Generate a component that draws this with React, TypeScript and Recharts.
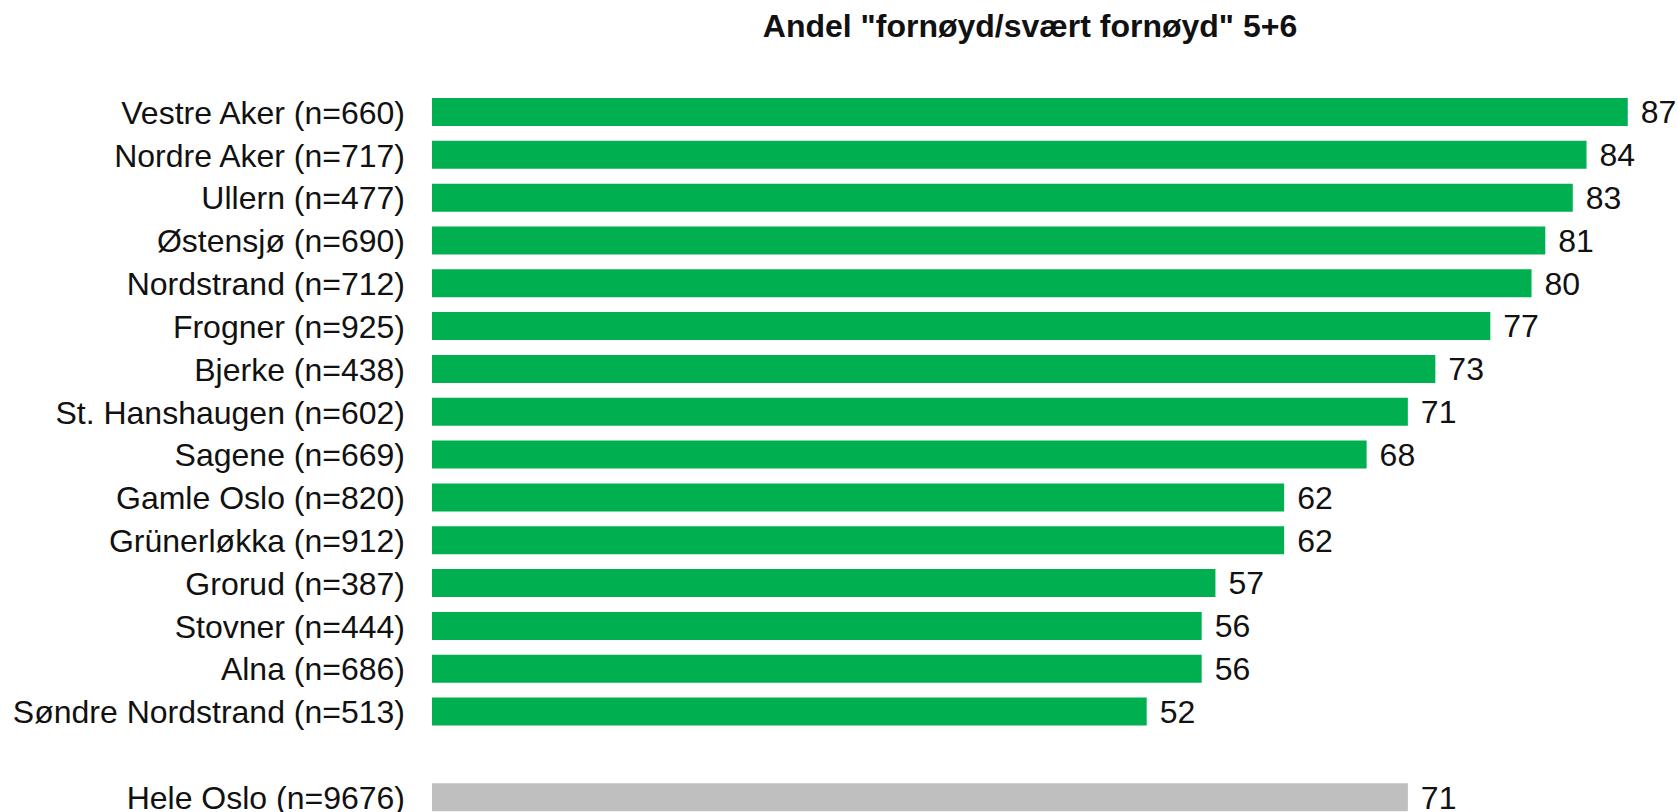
import React from "react";
import { BarChart, Bar, XAxis, YAxis, Cell, LabelList } from "recharts";

const title = 'Andel "fornøyd/svært fornøyd" 5+6';

const districts = [
  "Vestre Aker (n=660)",
  "Nordre Aker (n=717)",
  "Ullern (n=477)",
  "Østensjø (n=690)",
  "Nordstrand (n=712)",
  "Frogner (n=925)",
  "Bjerke (n=438)",
  "St. Hanshaugen (n=602)",
  "Sagene (n=669)",
  "Gamle Oslo (n=820)",
  "Grünerløkka (n=912)",
  "Grorud (n=387)",
  "Stovner (n=444)",
  "Alna (n=686)",
  "Søndre Nordstrand (n=513)",
];
const districtValues = [87, 84, 83, 81, 80, 77, 73, 71, 68, 62, 62, 57, 56, 56, 52];

const totalLabel = "Hele Oslo (n=9676)";
const totalValue = 71;

const FONT = '"Liberation Sans", Arial, Helvetica, sans-serif';
const GREEN = "#00B050";
const GRAY = "#BFBFBF";

const data = [
  ...districts.map((name, i) => ({ name, value: districtValues[i] as number | null, total: false })),
  { name: " ", value: null as number | null, total: false },
  { name: totalLabel, value: totalValue as number | null, total: true },
];

export default function App() {
  return (
    <div style={{ position: "relative", width: 1678, height: 812, overflow: "hidden", background: "#fff", fontFamily: FONT }}>
      <style>{"body{margin:0;overflow:hidden;}"}</style>
      <div
        style={{
          position: "absolute",
          left: 1030,
          top: 10,
          transform: "translateX(-50%)",
          whiteSpace: "nowrap",
          fontFamily: FONT,
          fontWeight: "bold",
          fontSize: 32,
          lineHeight: "32px",
          color: "#111",
        }}
      >
        {title}
      </div>
      <BarChart
        width={1678}
        height={830}
        data={data}
        layout="vertical"
        margin={{ top: 91, right: 9, bottom: 11, left: 0 }}
      >
        <XAxis type="number" domain={[0, 90]} hide />
        <YAxis
          type="category"
          dataKey="name"
          width={432}
          axisLine={false}
          tickLine={false}
          tickSize={0}
          tickMargin={27}
          interval={0}
          tick={{ fill: "#111", fontSize: 32, fontFamily: FONT }}
        />
        <Bar dataKey="value" barSize={28} isAnimationActive={false}>
          {data.map((d, i) => (
            <Cell key={i} fill={d.total ? GRAY : GREEN} />
          ))}
          <LabelList
            dataKey="value"
            position="right"
            offset={13}
            style={{ fill: "#111", fontSize: 32, fontFamily: FONT }}
          />
        </Bar>
      </BarChart>
    </div>
  );
}
